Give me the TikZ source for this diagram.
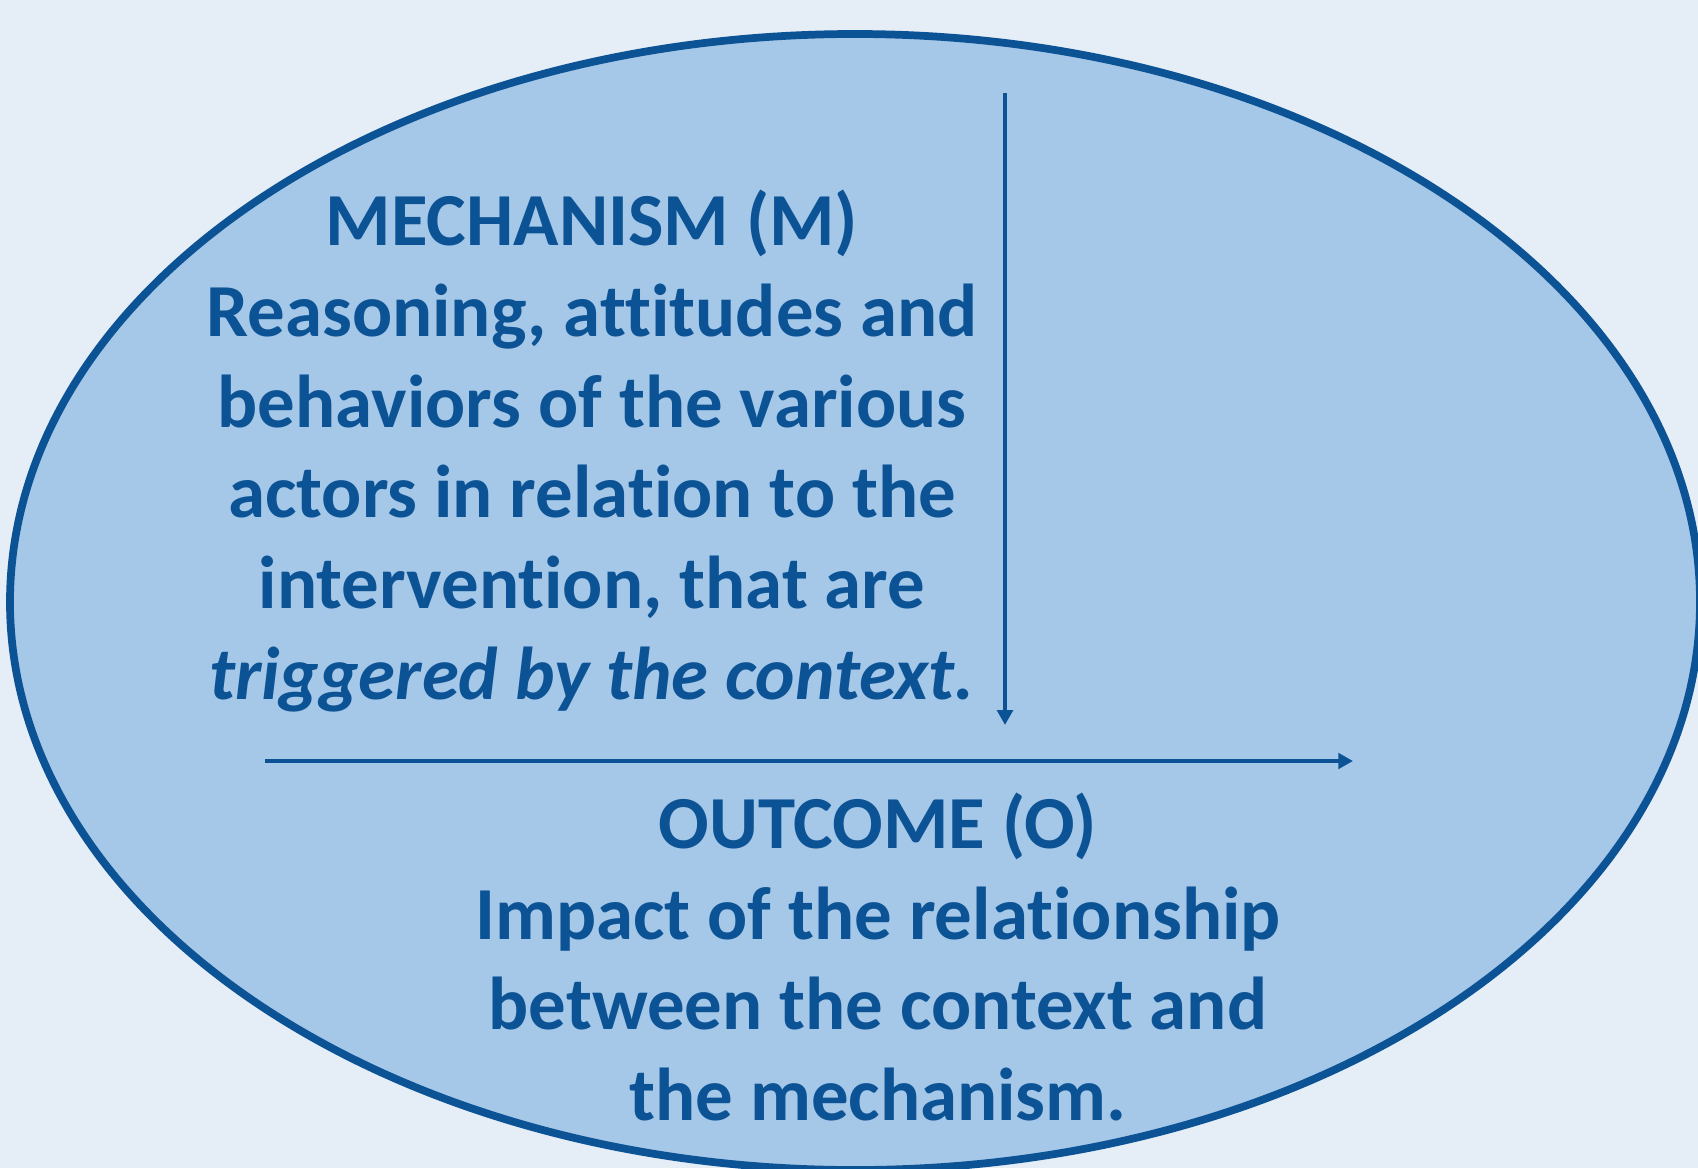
\documentclass[tikz,border=0pt]{standalone}
\usepackage{fontspec}
\setmainfont{Carlito}[Ligatures=NoCommon]
\usetikzlibrary{arrows.meta, positioning}
\definecolor{pagebg}{HTML}{E5EDF6}
\definecolor{ovalfill}{HTML}{A5C7E8}
\definecolor{cmodark}{HTML}{0C5396}

\begin{document}
\begin{tikzpicture}[
        cmotext/.style={align=center, text=cmodark,
            font=\fontsize{21.3}{25.8}\selectfont\bfseries},
        cmoarrow/.style={draw=cmodark, line width=1.1pt,
            -{Triangle[length=4.2pt, width=4.4pt]}}
    ]
        \fill[pagebg] (0,0) rectangle (16.98,11.68);
        \useasboundingbox (0,0) rectangle (16.98,11.68);
        \clip (0,0) rectangle (16.98,11.68);
        \draw[draw=cmodark, fill=ovalfill, line width=2.2pt]
            (8.55,5.66) ellipse [x radius=8.45cm, y radius=5.68cm];

        \node[cmotext] (mech) at (5.92,7.17)
            {MECHANISM (M)\\
             Reasoning, attitudes and\\
             behaviors of the various\\
             actors in relation to the\\
             intervention, that are\\
             \textit{triggered by the context.}};
        \node[cmotext] (outc) at (8.78,2.11)
            {OUTCOME (O)\\
             Impact of the relationship\\
             between the context and\\
             the mechanism.};

        \coordinate (mtop) at (10.05,10.75);
        \coordinate (mbot) at (10.05,4.43);
        \coordinate (ostart) at (2.65,4.07);
        \coordinate (oend) at (13.53,4.07);
        \draw[cmoarrow] (mtop) -- (mbot);
        \draw[cmoarrow] (ostart) -- (oend);
    \end{tikzpicture}
\end{document}
